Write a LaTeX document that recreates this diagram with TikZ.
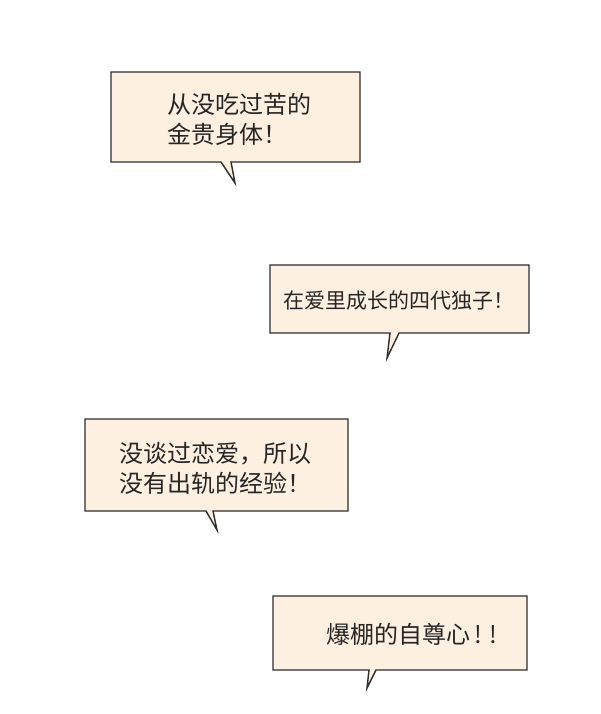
\documentclass[tikz,border=0pt]{standalone}
\usepackage{fontspec}
\newfontfamily\cjk{Noto Sans CJK SC}
\definecolor{bubblefill}{HTML}{FDF0E0}
\definecolor{bubbleline}{HTML}{2E2E2E}
\begin{document}
\begin{tikzpicture}[x=1pt,y=-1pt,
  bubble/.style={draw=bubbleline,fill=bubblefill,line width=1.4pt,line join=miter},
  txt/.style={font=\cjk\fontsize{24}{30}\selectfont,text=black!85,align=left,inner sep=0pt},
  txtsmall/.style={txt,font=\cjk\fontsize{21}{30}\selectfont}]
\useasboundingbox (0,0) rectangle (600,714);
\fill[white] (0,0) rectangle (600,714);
% bubble 1
\draw[bubble] (111,72) -- (360,72) -- (360,162) -- (231,162) -- (235,183) -- (221,162) -- (111,162) -- cycle;
\node[txt,anchor=west] (t1) at (167,119) {从没吃过苦的\\金贵身体！};
% bubble 2
\draw[bubble] (270,265) -- (529,265) -- (529,333) -- (399,333) -- (387,358) -- (390,333) -- (270,333) -- cycle;
\node[txtsmall,anchor=west] (t2) at (283,301) {在爱里成长的四代独子！};
% bubble 3
\draw[bubble] (85,419) -- (348,419) -- (348,511) -- (213,511) -- (217,530) -- (206,511) -- (85,511) -- cycle;
\node[txt,anchor=west] (t3) at (119,468) {没谈过恋爱，所以\\没有出轨的经验！};
% bubble 4
\draw[bubble] (273,596) -- (527,596) -- (527,670) -- (376,670) -- (367,688) -- (369,670) -- (273,670) -- cycle;
\node[txt,anchor=west] (t4) at (326,634) {爆棚的自尊心\,!\,\,!};
\end{tikzpicture}
\end{document}
